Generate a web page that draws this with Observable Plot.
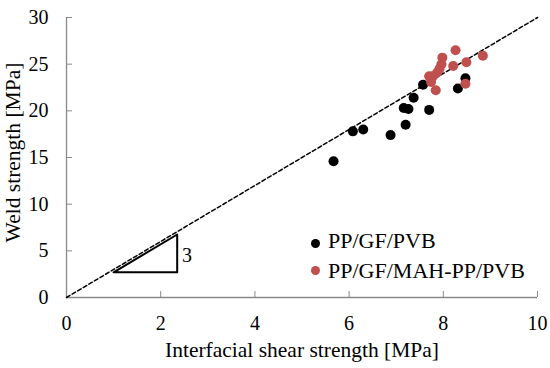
<!DOCTYPE html>
<html><head><meta charset="utf-8">
<script src="https://cdn.jsdelivr.net/npm/d3@7"></script>
<script src="https://cdn.jsdelivr.net/npm/@observablehq/plot@0.6"></script>
<style>
body{margin:0;background:#fff;}
#chart{position:relative;width:550px;height:368px;font-family:'Liberation Serif',serif;}
#chart svg text{font-family:'Liberation Serif',serif;font-variant:normal;}
.leg{position:absolute;font-family:'Liberation Serif',serif;font-size:22px;white-space:nowrap;line-height:1;color:#000;}
.legdot{position:absolute;width:9px;height:9px;border-radius:50%;}
</style></head><body><div id="chart"></div>
<script>
const seriesNames = ["PP/GF/PVB", "PP/GF/MAH-PP/PVB"];
const seriesColors = ["#000000", "#C0504D"];
const ppgfX = [5.67, 6.08, 6.30, 6.88, 7.20, 7.16, 7.26, 7.37, 7.70, 7.57, 8.31, 8.47];
const ppgfY = [14.6, 17.8, 18.0, 17.4, 18.5, 20.3, 20.2, 21.4, 20.1, 22.8, 22.4, 23.5];
const mahX = [8.26, 8.84, 8.49, 8.21, 7.98, 7.96, 7.92, 7.87, 7.78, 7.70, 7.74, 7.84, 8.47];
const mahY = [26.5, 25.9, 25.2, 24.8, 25.7, 25.0, 24.5, 24.1, 23.7, 23.7, 23.1, 22.2, 22.9];
const refLineX = [0, 10];
const refLineY = [0, 30];
const triX = [1, 2.35, 2.35, 1];
const triY = [2.7, 2.7, 6.75, 2.7];
const slopeLabel = "3";
const slopeLabelPos = [2.45, 4.5];
const xTicks = [0, 2, 4, 6, 8, 10];
const yTicks = [0, 5, 10, 15, 20, 25, 30];
const xTitle = "Interfacial shear strength [MPa]";
const yTitle = "Weld strength [MPa]";

const points = [
  ...ppgfX.map((x, i) => ({x, y: ppgfY[i], series: seriesNames[0]})),
  ...mahX.map((x, i) => ({x, y: mahY[i], series: seriesNames[1]}))
];
const refPts = refLineX.map((x, i) => ({x, y: refLineY[i]}));
const triPts = triX.map((x, i) => ({x, y: triY[i]}));

const font = "Liberation Serif";
const axisColor = "#898989";

const plot = Plot.plot({
  width: 550, height: 368,
  marginLeft: 66, marginRight: 13, marginTop: 17, marginBottom: 71,
  style: {fontFamily: font, fontSize: "20px", color: "#000", background: "#fff", overflow: "visible"},
  x: {domain: [0, 10]},
  y: {domain: [0, 30]},
  color: {domain: seriesNames, range: seriesColors},
  marks: [
    Plot.axisX({ticks: xTicks, tickSize: -6, tickPadding: 24, stroke: axisColor, fill: "#000", fontSize: 20, fontFamily: font, fontVariant: "normal", label: null}),
    Plot.axisY({ticks: yTicks, tickSize: -6, tickPadding: 24, stroke: axisColor, fill: "#000", fontSize: 20, fontFamily: font, fontVariant: "normal", label: null}),
    Plot.ruleY([0], {stroke: axisColor, strokeWidth: 1.3}),
    Plot.ruleX([0], {stroke: axisColor, strokeWidth: 1.3}),
    Plot.line(refPts, {x: "x", y: "y", stroke: "#000", strokeWidth: 1.5, strokeDasharray: "4,2.5"}),
    Plot.line(triPts, {x: "x", y: "y", stroke: "#000", strokeWidth: 2}),
    Plot.text([slopeLabel], {x: () => slopeLabelPos[0], y: () => slopeLabelPos[1], text: d => d, textAnchor: "start", fontSize: 20, fontFamily: font, fill: "#000"}),
    Plot.dot(points, {x: "x", y: "y", fill: "series", r: 5}),
    Plot.text([xTitle], {text: d => d, frameAnchor: "bottom", textAnchor: "middle", dy: 59.5, lineAnchor: "bottom", fontSize: 21.5, fontFamily: font, fill: "#000"}),
    Plot.text([yTitle], {text: d => d, frameAnchor: "left", textAnchor: "middle", rotate: -90, dx: -47, dy: -5, lineAnchor: "bottom", fontSize: 21.5, fontFamily: font, fill: "#000"})
  ]
});
const chart = document.getElementById("chart");
chart.appendChild(plot);

seriesNames.forEach((name, i) => {
  const dot = document.createElement("div");
  dot.className = "legdot";
  dot.style.background = seriesColors[i];
  dot.style.left = (315 - 4.5) + "px";
  dot.style.top = (243 + 27 * i - 4.5) + "px";
  chart.appendChild(dot);
  const t = document.createElement("div");
  t.className = "leg";
  t.textContent = name;
  t.style.left = "328px";
  t.style.top = (229.6 + 30 * i) + "px";
  chart.appendChild(t);
});
</script></body></html>
